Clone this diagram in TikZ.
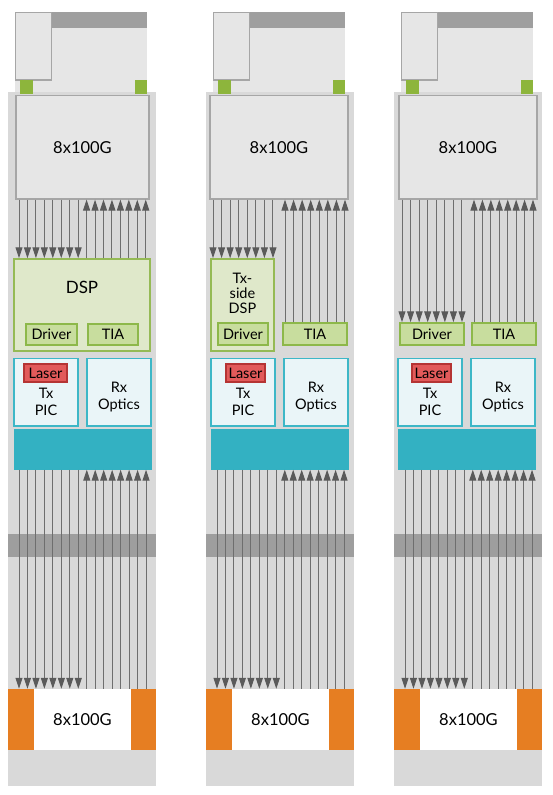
\documentclass[tikz,border=0pt]{standalone}
\usepackage{fontspec}
\setmainfont{Lato}
\usetikzlibrary{arrows.meta}
\definecolor{bodyg}{HTML}{D9D9D9}
\definecolor{lightg}{HTML}{E6E6E6}
\definecolor{darkbar}{HTML}{9F9F9F}
\definecolor{boxline}{HTML}{A6A6A6}
\definecolor{padg}{HTML}{8DB53C}
\definecolor{dspfill}{HTML}{DFE8CA}
\definecolor{dspline}{HTML}{95BA55}
\definecolor{chipfill}{HTML}{C8DD9E}
\definecolor{chipline}{HTML}{8DB84A}
\definecolor{tealc}{HTML}{33B1C2}
\definecolor{picfill}{HTML}{EAF5F8}
\definecolor{picline}{HTML}{3DB7C7}
\definecolor{laserfill}{HTML}{E25A5A}
\definecolor{laserline}{HTML}{B53434}
\definecolor{orangec}{HTML}{E67E22}
\definecolor{bandg}{HTML}{9E9E9E}
\definecolor{lineg}{HTML}{6E6E6E}
\definecolor{tipg}{HTML}{5A5A5A}
\newcommand\szA{\fontsize{16.5}{19}\selectfont}
\newcommand\szB{\fontsize{14.5}{17}\selectfont}
\newcommand\szC{\fontsize{14.5}{15}\selectfont}
% box node from corner (x1,y1) to corner (x2,y2)
\newcommand\bx[7]{\node[#1, minimum width={(#5)-(#3)}, minimum height={(#6)-(#4)}] (#2) at ({((#3)+(#5))/2},{((#4)+(#6))/2}) {#7};}
\begin{document}
\begin{tikzpicture}[x=1pt,y=-1pt,
  gbox/.style={draw=boxline,fill=lightg,line width=1.2pt,inner sep=0pt,font=\szA},
  wbox/.style={fill=white,inner sep=0pt,font=\szA},
  dspbox/.style={draw=dspline,fill=dspfill,line width=1.5pt,inner sep=0pt},
  chip/.style={draw=chipline,fill=chipfill,line width=1.5pt,inner sep=0pt,font=\szB},
  picbox/.style={draw=picline,fill=picfill,line width=1.5pt,inner sep=0pt},
  laserbox/.style={draw=laserline,fill=laserfill,line width=1.2pt,inner sep=0pt,font=\szB},
  tealbox/.style={fill=tealc,inner sep=0pt},
  txt/.style={inner sep=0pt,align=center,font=\szB},
  arr/.style={draw=lineg,line width=1pt,-{Triangle[length=11pt,width=7pt,color=tipg]}}
]
\useasboundingbox (0,0) rectangle (553,795);

% common parts of the three modules
\foreach \L/\k/\T in {8/1/14,206/2/211,394/3/398}{
  \fill[lightg] (\L+7,12) rectangle (\L+139,92);
  \fill[darkbar] (\L+43.5,12) rectangle (\L+139,28);
  \bx{gbox}{cage\k}{\L+7.5}{12.5}{\L+43.5}{80}{}
  \fill[bodyg] (\L,92) rectangle (\L+148,786);
  \fill[padg] (\L+12,80) rectangle (\L+24.5,94);
  \fill[padg] (\L+127,80) rectangle (\L+139,94);
  \fill[bandg] (\L,534) rectangle (\L+148,557);
  \fill[orangec] (\L,689) rectangle (\L+26,750);
  \fill[orangec] (\L+123,689) rectangle (\L+148,750);
  \bx{wbox}{bot\k}{\L+26}{689}{\L+123}{750}{8x100G}
  \bx{picbox}{tx\k}{\T}{358.5}{\T+64}{426}{}
  \node[txt] (txl\k) at (\T+32,401.5) {Tx\\PIC};
  \bx{picbox}{rx\k}{\T+73}{358.5}{\T+137}{426}{}
  \node[txt] (rxl\k) at (\T+105,397) {Rx\\Optics};
  \bx{tealbox}{teal\k}{\T}{429}{\T+137.5}{469.5}{}
  \foreach \i in {0,...,7}{
    \coordinate (s) at ({\L+11+8.47*\i},0);
    \draw[arr] (s |- teal\k.south) -- (s |- bot\k.north);
  }
  \foreach \i in {8,...,15}{
    \coordinate (s) at ({\L+11+8.47*\i},0);
    \draw[arr] (s |- bot\k.north) -- (s |- teal\k.south);
  }
}

% lasers
\bx{laserbox}{las1}{24}{364}{67}{382}{Laser}
\bx{laserbox}{las2}{226}{364}{265}{382}{Laser}
\bx{laserbox}{las3}{412}{364}{451}{382}{Laser}

% module 1
\bx{gbox}{top1}{16}{95.5}{149}{199}{8x100G}
\bx{dspbox}{dsp1}{14}{259}{150}{351}{}
\node[txt, font=\fontsize{17}{19}\selectfont] (dspl1) at (82,287) {DSP};
\bx{chip}{drv1}{26}{324}{77}{345}{Driver}
\bx{chip}{tia1}{88}{324}{138}{345}{TIA}
\foreach \i in {0,...,7}{
  \coordinate (s) at ({19+8.45*\i},0);
  \draw[arr] (s |- top1.south) -- (s |- dsp1.north);
}
\foreach \i in {8,...,15}{
  \coordinate (s) at ({19+8.45*\i},0);
  \draw[arr] (s |- dsp1.north) -- (s |- top1.south);
}

% module 2
\bx{gbox}{top2}{210}{95.5}{348}{199}{8x100G}
\bx{dspbox}{dsp2}{211}{259}{274}{351}{}
\node[txt, font=\szC] (dspl2) at (242.5,293) {Tx-\\side\\DSP};
\bx{chip}{drv2}{218}{323}{268}{345}{Driver}
\bx{chip}{tia2}{283}{323}{347}{345}{TIA}
\foreach \i in {0,...,7}{
  \coordinate (s) at ({213+8.57*\i},0);
  \draw[arr] (s |- top2.south) -- (s |- dsp2.north);
}
\foreach \i in {0,...,7}{
  \coordinate (s) at ({285+8.57*\i},0);
  \draw[arr] (s |- tia2.north) -- (s |- top2.south);
}

% module 3
\bx{gbox}{top3}{399}{95.5}{537}{199}{8x100G}
\bx{chip}{drv3}{400}{323}{464}{345}{Driver}
\bx{chip}{tia3}{472}{323}{536}{345}{TIA}
\foreach \i in {0,...,7}{
  \coordinate (s) at ({402+8.57*\i},0);
  \draw[arr] (s |- top3.south) -- (s |- drv3.north);
}
\foreach \i in {0,...,7}{
  \coordinate (s) at ({474+8.43*\i},0);
  \draw[arr] (s |- tia3.north) -- (s |- top3.south);
}
\end{tikzpicture}
\end{document}
